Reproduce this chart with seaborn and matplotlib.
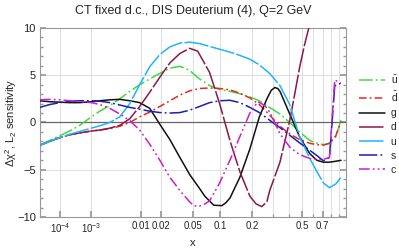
import numpy as np
import pandas as pd
import matplotlib
matplotlib.use('Agg')
import matplotlib.pyplot as plt
import seaborn as sns

# values (x is momentum fraction)
x_common = [1e-5, 3.5e-5, 1e-4, 2.3e-4, 4.8e-4, 1e-3, 1.6e-3, 2.65e-3, 4.2e-3, 6.4e-3,
            9.4e-3, 0.0135, 0.019, 0.026, 0.035, 0.046, 0.06, 0.077, 0.098, 0.124,
            0.154, 0.19, 0.23, 0.28, 0.34, 0.405, 0.48, 0.57, 0.64, 0.71, 0.78, 0.86, 0.93]
ubar = [-2.4, -1.9, -1.4, -0.9, -0.3, 0.6, 1.2, 1.8, 2.5, 3.3,
        4.0, 4.6, 5.2, 5.75, 5.95, 5.5, 4.6, 3.9, 3.5, 3.3,
        3.05, 2.7, 2.3, 1.6, 0.9, 0.0, -1.0, -1.9, -2.2, -2.35, -2.2, -1.5, 0.3]
dbar = [-2.4, -2.0, -1.6, -1.3, -1.1, -0.9, -0.8, -0.65, -0.4, 0.0,
        0.6, 1.1, 1.7, 2.3, 2.9, 3.35, 3.6, 3.65, 3.6, 3.45,
        3.1, 2.6, 1.9, 0.8, -0.4, -1.2, -1.8, -2.2, -2.35, -2.4, -2.2, -1.4, 0.1]
u_val = [-2.4, -2.0, -1.6, -1.25, -0.95, -0.6, -0.35, 0.0, 0.6, 2.0,
         4.0, 5.9, 7.2, 8.0, 8.4, 8.5, 8.35, 8.05, 7.75, 7.45,
         7.1, 6.7, 6.1, 5.2, 3.9, 1.9, -1.5, -3.8, -5.2, -6.4, -6.9, -6.5, -5.8]

x_g = [1e-5, 3.5e-5, 1e-4, 2.3e-4, 4.8e-4, 1e-3, 1.6e-3, 2.65e-3, 4.2e-3, 6.4e-3,
       9.4e-3, 0.0135, 0.019, 0.026, 0.035, 0.046, 0.06, 0.0684, 0.0852, 0.1032, 0.1129, 0.124,
       0.154, 0.19, 0.23, 0.266, 0.289, 0.309, 0.326, 0.34, 0.405, 0.48, 0.57, 0.64, 0.71, 0.78,
       0.86, 0.93]
g_val = [2.3, 2.2, 2.15, 2.1, 2.1, 2.2, 2.3, 2.4, 2.45, 2.3,
         2.1, 1.5, -0.2, -1.8, -3.7, -5.5, -7.0, -7.8, -8.75, -8.8, -8.5, -8.0,
         -5.8, -2.8, 0.6, 2.5, 3.4, 3.7, 3.6, 3.3, 0.9, -1.5, -3.3, -4.0, -4.2, -4.2,
         -4.1, -4.0]

x_d = [1e-5, 3.5e-5, 1e-4, 2.3e-4, 4.8e-4, 1e-3, 1.6e-3, 2.65e-3, 4.2e-3, 6.4e-3,
       9.4e-3, 0.0135, 0.019, 0.026, 0.035, 0.046, 0.057, 0.077, 0.098, 0.124,
       0.154, 0.19, 0.215, 0.241, 0.266, 0.281, 0.34, 0.405, 0.442, 0.48, 0.524, 0.579]
d_val = [-2.4, -2.0, -1.6, -1.3, -1.1, -0.9, -0.8, -0.6, -0.3, 0.4,
         1.7, 3.2, 4.8, 6.3, 7.3, 7.85, 7.55, 5.3, 2.0, -1.9,
         -5.2, -7.8, -8.6, -8.9, -8.4, -7.2, -4.2, 0.2, 3.0, 5.8, 8.3, 10.8]

x_s = [1e-5, 3.5e-5, 1e-4, 2.3e-4, 4.8e-4, 1e-3, 1.6e-3, 2.65e-3, 4.2e-3, 6.4e-3,
       9.4e-3, 0.0135, 0.019, 0.026, 0.035, 0.046, 0.06, 0.077, 0.098, 0.124,
       0.154, 0.19, 0.23, 0.28, 0.34, 0.405, 0.48, 0.57, 0.64, 0.71, 0.78, 0.846, 0.926]
s_val = [1.6, 1.9, 2.1, 2.25, 2.3, 2.3, 2.25, 2.1, 1.85, 1.6,
         1.4, 1.2, 1.05, 1.0, 1.05, 1.3, 1.7, 2.1, 2.3, 2.35,
         2.1, 1.6, 1.05, 0.25, -0.55, -1.35, -2.15, -2.95, -3.5, -4.05, -3.7, 3.9, 4.15]

x_c = [1e-5, 3.5e-5, 1e-4, 2.3e-4, 4.8e-4, 1e-3, 1.6e-3, 2.65e-3, 4.2e-3, 6.4e-3,
       9.4e-3, 0.0135, 0.019, 0.026, 0.035, 0.046, 0.0507, 0.057, 0.0652, 0.077, 0.098, 0.124,
       0.154, 0.19, 0.223, 0.256, 0.281, 0.34, 0.405, 0.48, 0.57, 0.64, 0.71, 0.78, 0.846, 0.926]
c_val = [2.4, 2.45, 2.4, 2.3, 2.2, 2.1, 1.9, 1.5, 0.9, 0.2,
         -0.8, -2.3, -4.0, -5.8, -7.2, -8.4, -8.75, -8.9, -8.75, -8.3, -6.4, -4.0,
         -1.5, 1.0, 2.2, 1.8, 1.1, -1.2, -2.6, -3.4, -3.8, -3.9, -3.9, -3.7, 4.5, 4.15]

x_ticks = [1e-4, 1e-3, 0.01, 0.02, 0.05, 0.1, 0.2, 0.5, 0.7]
x_ticklabels = [r'$10^{-4}$', r'$10^{-3}$', '0.01', '0.02', '0.05', '0.1', '0.2', '0.5', '0.7']
x_minor = [0.3, 0.4, 0.6, 0.8, 0.9]
y_ticks = [-10, -5, 0, 5, 10]

series = [
    (r'$\bar{u}$', x_common, ubar, '#3ddc3d', (0, (9, 2, 1.2, 2))),
    (r'$\bar{d}$', x_common, dbar, '#e8262a', (0, (5, 2, 1.2, 2))),
    ('g', x_g, g_val, '#111111', '-'),
    ('d', x_d, d_val, '#8a1848', (0, (16, 1.5))),
    ('u', x_common, u_val, '#1eb4ff', (0, (16, 1.5))),
    ('s', x_s, s_val, '#1c1cb8', (0, (12, 2, 1.2, 2))),
    ('c', x_c, c_val, '#cc1ecc', (0, (7, 2, 1.2, 2, 1.2, 2))),
]

sns.set_theme(style='ticks')
plt.rcParams['font.family'] = ['Liberation Sans', 'DejaVu Sans']
plt.rcParams['mathtext.default'] = 'regular'

fig = plt.figure(figsize=(3.99, 2.49), dpi=100)
ax = fig.add_subplot(111)
fig.subplots_adjust(left=0.1003, right=0.867, top=0.8876, bottom=0.1285)

# x axis in the reference is spaced like x**0.2
ax.set_xscale('function', functions=(lambda v: np.clip(v, 0, None) ** 0.2,
                                     lambda v: np.clip(v, 0, None) ** 5))

for name, xs, ys, col, ls in series:
    df = pd.DataFrame({'x': xs, 'y': ys})
    sns.lineplot(data=df, x='x', y='y', ax=ax, color=col, linestyle=ls,
                 linewidth=1.1, estimator=None, sort=False, label=name, zorder=3)

ax.axhline(0, color='#666666', lw=0.9, zorder=2)

ax.set_xlim(1e-5, 1)
ax.set_ylim(-10, 10)
ax.set_xticks(x_ticks)
ax.set_xticklabels(x_ticklabels)
ax.set_xticks(x_minor, minor=True)
ax.set_yticks(y_ticks)
ax.set_yticklabels(['\u221210', '\u22125', '0', '5', '10'])
ax.set_yticks(np.arange(-10, 11, 1), minor=True)

ax.grid(True, which='both', axis='x', color='#dddddd', lw=0.7, zorder=0)
ax.grid(True, which='major', axis='y', color='#dddddd', lw=0.7, zorder=0)

for sp in ax.spines.values():
    sp.set_color('#999999')
    sp.set_linewidth(0.8)
ax.tick_params(axis='both', which='both', direction='in', color='#999999', pad=3)
ax.tick_params(axis='x', labelsize=7)
ax.tick_params(axis='y', labelsize=8)
ax.tick_params(axis='y', which='both', right=True)
ax.tick_params(axis='x', which='major', length=4)
ax.tick_params(axis='x', which='minor', length=2.5)
ax.tick_params(axis='y', which='major', length=4)
ax.tick_params(axis='y', which='minor', length=2)

ax.set_title('CT fixed d.c., DIS Deuterium (4), Q=2 GeV', fontsize=9, pad=10)
ax.set_xlabel('x', fontsize=8, labelpad=2)
ax.set_ylabel(r'$\Delta\chi^2$, $L_2$ sensitivity', fontsize=8)
ax.yaxis.set_label_coords(-0.07, 0.5)

ax.legend(loc='center left', bbox_to_anchor=(1.03, 0.49), frameon=False,
          fontsize=7.5, handlelength=2.5, labelspacing=0.4, handletextpad=0.5,
          borderaxespad=0)

fig.savefig('out.png', dpi=100)
